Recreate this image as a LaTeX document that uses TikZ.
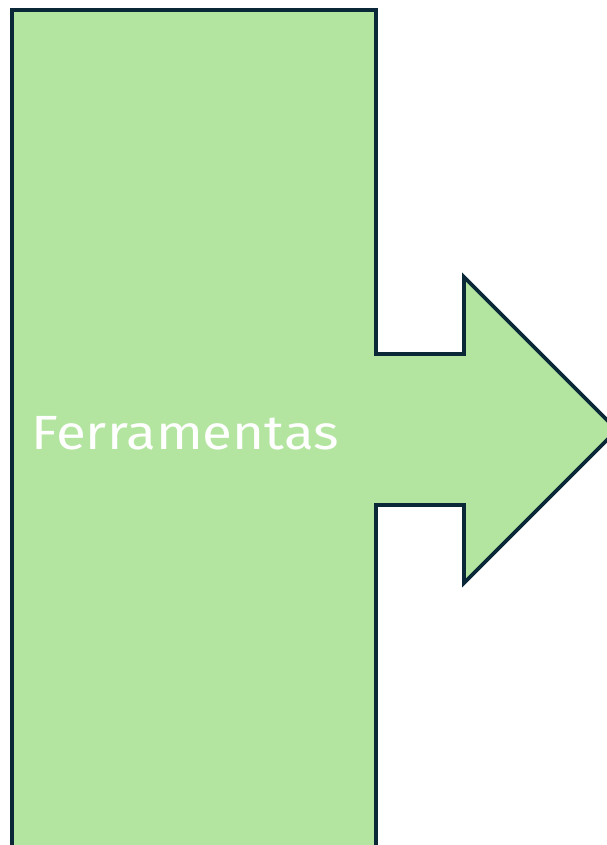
\documentclass[tikz,border=0pt]{standalone}
\usepackage{fontspec}
\setmainfont{Fira Sans}
\definecolor{fillgreen}{HTML}{B3E5A0}
\definecolor{edgenavy}{HTML}{0B2838}
\begin{document}
\begin{tikzpicture}[x=1pt,y=-1pt,
  shapestyle/.style={fill=fillgreen,draw=edgenavy,line width=3.8pt,line join=miter},
  labelstyle/.style={text=white,font=\fontsize{48}{54}\selectfont,inner sep=0pt,anchor=base}]
\useasboundingbox (0,0) rectangle (607,845);
\clip (0,0) rectangle (607,845);
\path[shapestyle] (12,10) -- (376,10) -- (376,354) -- (464,354) -- (464,277)
  -- (617,430) -- (464,583) -- (464,505) -- (376,505) -- (376,860) -- (12,860) -- cycle;
\node[labelstyle] (lbl) at (185,449) {\scalebox{1.14}[1]{Ferramentas}};
\end{tikzpicture}
\end{document}
